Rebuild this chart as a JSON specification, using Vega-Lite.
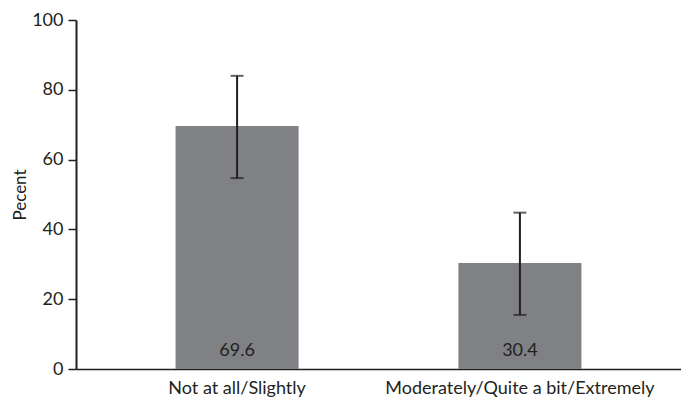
{
  "$schema": "https://vega.github.io/schema/vega-lite/v6.json",
  "width": 605,
  "height": 349,
  "autosize": {"type": "none"},
  "padding": {"left": 76, "top": 20, "right": 0, "bottom": 31},
  "background": "white",
  "config": {"view": {"stroke": null}, "font": "Lato"},
  "data": {"values": [
    {"category": "Not at all/Slightly", "percent": 69.6, "low": 54.7, "high": 84.0},
    {"category": "Moderately/Quite a bit/Extremely", "percent": 30.4, "low": 15.5, "high": 44.8}
  ]},
  "encoding": {
    "x": {
      "field": "category", "type": "nominal", "sort": null,
      "scale": {"paddingInner": 0.565, "paddingOuter": 0.352},
      "axis": {"title": null, "labelAngle": 0, "ticks": false, "domainColor": "#231f20", "domainWidth": 1.5, "labelFontSize": 18, "labelColor": "#231f20", "labelPadding": 10, "labelFont": "Lato", "labelLimit": 0}
    }
  },
  "layer": [
    {
      "mark": {"type": "bar", "color": "#808184"},
      "encoding": {
        "y": {
          "field": "percent", "type": "quantitative",
          "scale": {"domain": [0, 100]},
          "axis": {"title": "Pecent", "values": [0, 20, 40, 60, 80, 100], "grid": false, "domainColor": "#231f20", "domainWidth": 2, "tickColor": "#231f20", "tickWidth": 1.5, "tickSize": 8, "labelFontSize": 18, "labelColor": "#231f20", "labelPadding": 5, "titleFontSize": 17, "titleFontWeight": "normal", "titleColor": "#231f20", "titlePadding": 2, "titleFont": "Lato", "labelFont": "Lato"}
        }
      }
    },
    {
      "mark": {"type": "rule", "color": "#231f20", "strokeWidth": 2},
      "encoding": {
        "y": {"field": "low", "type": "quantitative"},
        "y2": {"field": "high"}
      }
    },
    {
      "mark": {"type": "tick", "color": "#231f20", "thickness": 2, "size": 13, "orient": "horizontal"},
      "encoding": {"y": {"field": "low", "type": "quantitative"}}
    },
    {
      "mark": {"type": "tick", "color": "#231f20", "thickness": 2, "size": 13, "orient": "horizontal"},
      "encoding": {"y": {"field": "high", "type": "quantitative"}}
    },
    {
      "mark": {"type": "text", "baseline": "bottom", "dy": -9, "fontSize": 18, "color": "#231f20", "font": "Lato"},
      "encoding": {
        "y": {"datum": 0, "type": "quantitative"},
        "text": {"field": "percent", "type": "quantitative", "format": ".1f"}
      }
    }
  ]
}
